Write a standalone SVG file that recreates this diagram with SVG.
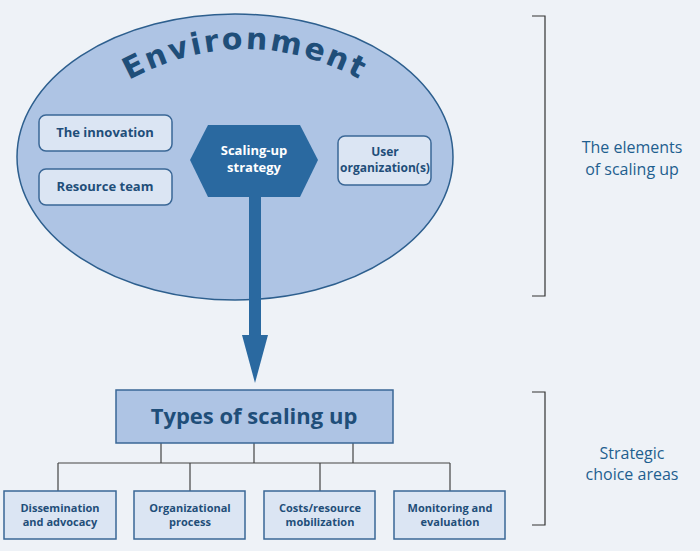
<svg xmlns="http://www.w3.org/2000/svg" width="700" height="551" viewBox="0 0 700 551">
<style>
.box{fill:#dbe5f3;stroke:#3a6796;stroke-width:1.5}
.t{font-family:"Open Sans","Liberation Sans",sans-serif;font-weight:bold;fill:#1f4e79;text-anchor:middle}
.s{font-size:13px}
.b{font-size:11px}
.side{font-family:"Open Sans","Liberation Sans",sans-serif;font-size:16px;fill:#1f5f8f;text-anchor:middle}
.ln{stroke:#444;stroke-width:1.2;fill:none}
.br{stroke:#333;stroke-width:1.2;fill:none}
</style>
<defs><path id="arc" d="M 112 90 Q 245 8 378 90"/></defs>
<rect width="700" height="551" fill="#eef2f7"/>
<g id="environment">
<ellipse cx="235" cy="157" rx="218" ry="143" fill="#aec4e4" stroke="#2d5f8e" stroke-width="1.5"/>
<text font-size="30" font-weight="bold" fill="#1f4e79" text-anchor="middle" letter-spacing="2.5" font-family="'DejaVu Sans',sans-serif"><textPath href="#arc" startOffset="50%">Environment</textPath></text>
</g>
<g id="innovation"><rect class="box" x="39" y="115" width="133" height="36" rx="7"/><text class="t s" x="105" y="137">The innovation</text></g>
<g id="resource"><rect class="box" x="39" y="169" width="133" height="36" rx="7"/><text class="t s" x="105" y="191">Resource team</text></g>
<g id="user"><rect class="box" x="338" y="136" width="93" height="49" rx="7"/><text class="t" font-size="12" x="385" y="156">User</text><text class="t" font-size="12" x="385" y="172">organization(s)</text></g>
<g id="connectors">
<rect x="249" y="190" width="12" height="146" fill="#2a69a0"/>
<polygon points="242,335 268,335 255,383" fill="#2a69a0"/>
<path class="ln" d="M161 443V463M254 443V463M353 443V463M58 463H450M58 463V491M190 463V491M320 463V491M450 463V491"/>
</g>
<g id="strategy"><polygon points="190,160 208,125 300,125 318,160 300,197 208,197" fill="#2a69a0"/><text class="t s" x="254" y="155" style="fill:#fff">Scaling-up</text><text class="t s" x="254" y="172" style="fill:#fff">strategy</text></g>
<g id="types"><rect x="116" y="390" width="277" height="53" fill="#aec4e4" stroke="#3a6796" stroke-width="1.5"/><text class="t" font-size="22" x="254" y="424">Types of scaling up</text></g>
<g id="c1"><rect class="box" x="4" y="491" width="112" height="48"/><text class="t b" x="60" y="512">Dissemination</text><text class="t b" x="60" y="526">and advocacy</text></g>
<g id="c2"><rect class="box" x="134" y="491" width="111" height="48"/><text class="t b" x="190" y="512">Organizational</text><text class="t b" x="190" y="526">process</text></g>
<g id="c3"><rect class="box" x="264" y="491" width="111" height="48"/><text class="t b" x="320" y="512">Costs/resource</text><text class="t b" x="320" y="526">mobilization</text></g>
<g id="c4"><rect class="box" x="394" y="491" width="111" height="48"/><text class="t b" x="450" y="512">Monitoring and</text><text class="t b" x="450" y="526">evaluation</text></g>
<g id="brackets">
<path class="br" d="M532 16H545V296H532"/>
<path class="br" d="M532 392H545V525H532"/>
<text class="side" x="632" y="153">The elements</text><text class="side" x="632" y="175">of scaling up</text>
<text class="side" x="632" y="459">Strategic</text><text class="side" x="632" y="480">choice areas</text>
</g>
</svg>
